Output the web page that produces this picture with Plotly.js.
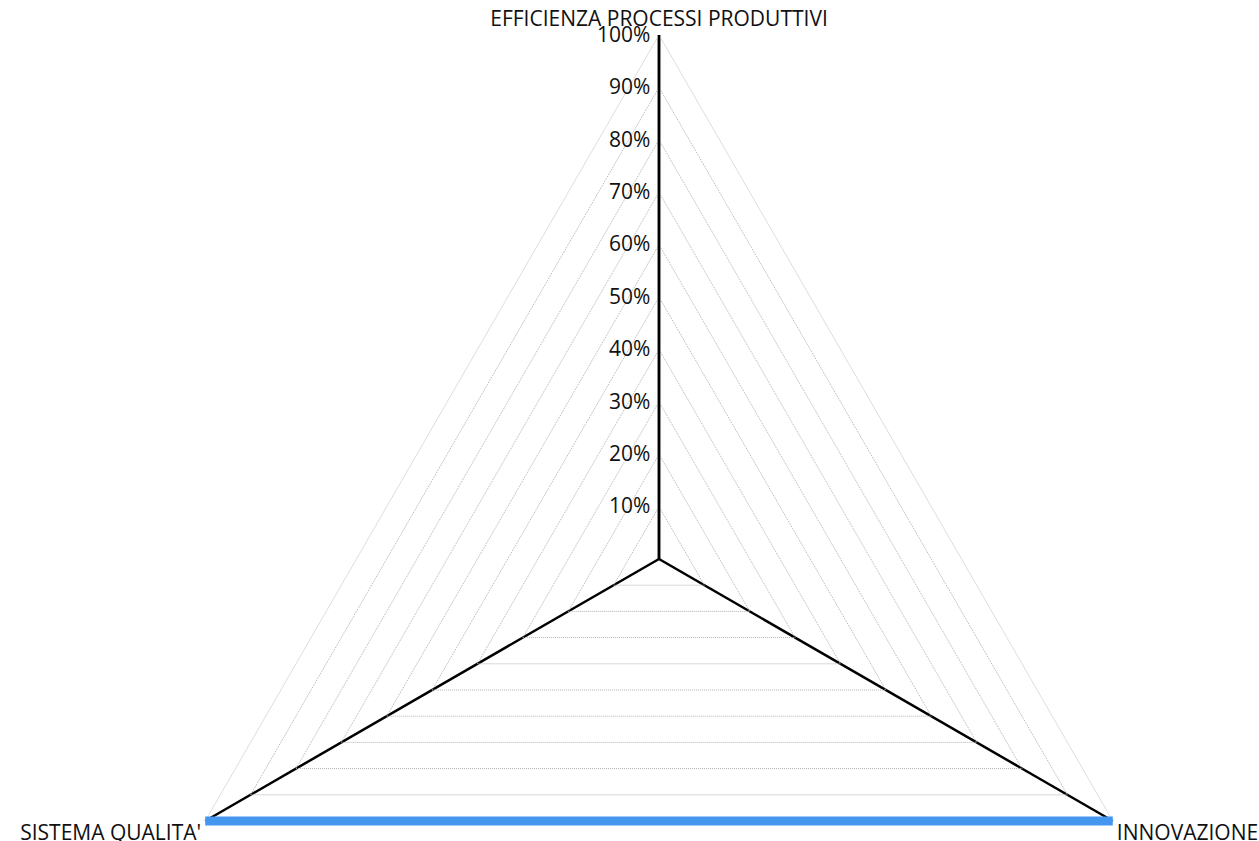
<!DOCTYPE html>
<html><head><meta charset="utf-8">
<script src="https://cdn.plot.ly/plotly-3.0.1.min.js"></script>
<style>
html,body{margin:0;padding:0;overflow:hidden;background:#fff}
#chart .polarlayer [clip-path]{clip-path:none !important}
</style>
</head><body>
<div id="chart" style="width:1259px;height:1100px"></div>
<script>
const categories = ['EFFICIENZA PROCESSI PRODUTTIVI', 'INNOVAZIONE', "SISTEMA QUALITA'"];
const seriesValues = [null, 100, 100];
const tickValues = [10, 20, 30, 40, 50, 60, 70, 80, 90, 100];
const tickLabels = ['10%', '20%', '30%', '40%', '50%', '60%', '70%', '80%', '90%', '100%'];

const FONT = 'Open Sans, DejaVu Sans, sans-serif';
const trace = {
  type: 'scatterpolar',
  r: seriesValues,
  theta: categories,
  mode: 'lines',
  connectgaps: false,
  cliponaxis: false,
  line: {color: '#4496ee', width: 9},
  hoverinfo: 'skip'
};
const layout = {
  width: 1259, height: 1100,
  margin: {l: 135, r: 76, t: 35, b: 17},
  paper_bgcolor: '#fff',
  showlegend: false,
  font: {family: FONT, size: 21, color: '#111'},
  polar: {
    domain: {x: [0, 1], y: [0, 1]},
    bgcolor: 'rgba(0,0,0,0)',
    gridshape: 'linear',
    radialaxis: {
      range: [0, 100], angle: 90, side: 'counterclockwise',
      tickvals: tickValues, ticktext: tickLabels,
      ticks: '', showline: true, linecolor: '#000', linewidth: 2.5,
      gridcolor: '#b0b0b0', griddash: '1px,1px', gridwidth: 1,
      tickfont: {family: FONT, size: 21, color: '#111'},
      tickangle: 90, layer: 'below traces'
    },
    angularaxis: {
      direction: 'clockwise', rotation: 90,
      showline: true, linecolor: '#dddddd', linewidth: 1,
      gridcolor: '#000', gridwidth: 2.5,
      ticks: '', layer: 'below traces',
      tickfont: {family: FONT, size: 21, color: '#111'}
    }
  }
};
Plotly.newPlot('chart', [trace], layout, {displayModeBar: false, staticPlot: true});
</script>
</body></html>
